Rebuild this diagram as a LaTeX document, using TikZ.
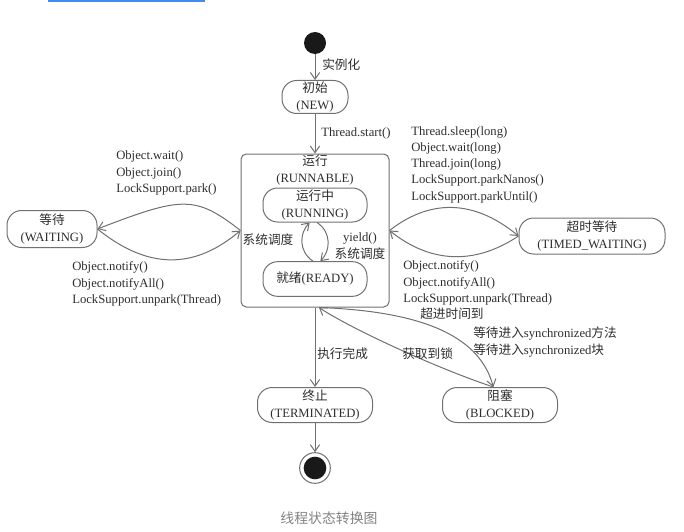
\documentclass[tikz,border=0pt]{standalone}
\usepackage{fontspec}
\setmainfont{Liberation Serif}
\newfontfamily\cjk{Noto Sans CJK SC}
\usepackage{tikz}
\usetikzlibrary{arrows.meta}

\definecolor{lineg}{RGB}{112,112,112}
\definecolor{txtg}{RGB}{45,45,45}
\definecolor{capg}{RGB}{130,130,130}
\definecolor{barblue}{RGB}{66,139,245}

\tikzset{
  state/.style={draw=lineg, line width=0.75pt, rounded corners=11pt, inner sep=0pt, align=center, text=txtg, font=\fontsize{9.5}{12.2}\selectfont},
  flow/.style={draw=lineg, line width=0.75pt, -{Straight Barb[length=5pt,width=7pt]}},
  lbl/.style={text=txtg, inner sep=0pt, align=left, font=\fontsize{9.5}{12.2}\selectfont},
}

\begin{document}
\begin{tikzpicture}[x=0.75pt,y=0.75pt,yscale=-1,xscale=1]
    \useasboundingbox (0,0) rectangle (684,531);
    \fill [barblue] (48,0) rectangle (205,2.5);

    % states
    \node [circle, fill=black!90, minimum size=16.5pt, inner sep=0pt] (start) at (315,43) {};
    \node [state, minimum width=49.5pt, minimum height=24.75pt] (new) at (315,97) {{\cjk 初始}\\(NEW)};
    \node [state, rounded corners=4pt, minimum width=111pt, minimum height=114.75pt] (runnable) at (315,230.5) {};
    \node [lbl, align=center] (runlabel) at (315,170) {{\cjk 运行}\\(RUNNABLE)};
    \node [state, minimum width=78pt, minimum height=25.5pt] (running) at (315,205) {{\cjk 运行中}\\(RUNNING)};
    \node [state, minimum width=78pt, minimum height=26pt] (ready) at (315,279) {{\cjk 就绪}(READY)};
    \node [state, minimum width=67.5pt, minimum height=27.75pt] (waiting) at (52,229) {{\cjk 等待}\\(WAITING)};
    \node [state, minimum width=109.5pt, minimum height=27pt] (timed) at (592,236) {{\cjk 超时等待}\\(TIMED\_WAITING)};
    \node [state, minimum width=86.25pt, minimum height=26.25pt] (terminated) at (315,405) {{\cjk 终止}\\(TERMINATED)};
    \node [state, minimum width=86.25pt, minimum height=26.25pt] (blocked) at (500,405) {{\cjk 阻塞}\\(BLOCKED)};
    \node [circle, draw=lineg, line width=0.75pt, fill=white, minimum size=23pt, inner sep=0pt] (finish) at (315,468) {};
    \node [circle, fill=black!90, minimum size=17pt, inner sep=0pt] (finishdot) at (finish) {};

    % transitions
    \draw [flow] (start) -- (new);
    \draw [flow] (new) -- (runnable);
    \draw [flow] (runnable) -- (terminated);
    \draw [flow] (terminated) -- (finish);
    \draw [flow] ([xshift=-1.5pt]ready.north) .. controls +(-15,-10) and +(-10,10) .. ([xshift=-4pt]running.south);
    \draw [flow] ([xshift=1.5pt]running.south) .. controls +(15,10) and +(10,-10) .. ([xshift=4pt]ready.north);
    \draw [flow] (runnable.west) .. controls +(-45,-35) and +(85,-33) .. (waiting.east);
    \draw [flow] (waiting.east) .. controls +(52,42) and +(-45,38) .. (runnable.west);
    \draw [flow] (runnable.east) .. controls +(45,-35) and +(-40,-33) .. (timed.west);
    \draw [flow] (timed.west) .. controls +(-45,30) and +(40,32) .. (runnable.east);
    \draw [flow] ([xshift=3pt]runnable.south) .. controls +(110,4) and +(-13,-48) .. ([xshift=-5pt]blocked.north);
    \draw [flow] ([xshift=-5pt]blocked.north) .. controls +(-60,-20) and +(30,20) .. ([xshift=3pt]runnable.south);

    % labels
    \node [lbl, anchor=west] (lnew) at (322,65) {\cjk 实例化};
    \node [lbl, anchor=west] (lstart) at (321,133) {Thread.start()};
    \node [lbl] (lsched) at (268,240) {\cjk 系统调度};
    \node [lbl, align=center] (lyield) at (360,246) {yield()\\{\cjk 系统调度}};
    \node [lbl, anchor=west] (lwait) at (116,173) {Object.wait()\\Object.join()\\LockSupport.park()};
    \node [lbl, anchor=west] (lnotify) at (72,284) {Object.notify()\\Object.notifyAll()\\LockSupport.unpark(Thread)};
    \node [lbl, anchor=west] (ltimed) at (411,164.5) {Thread.sleep(long)\\Object.wait(long)\\Thread.join(long)\\LockSupport.parkNanos()\\LockSupport.parkUntil()};
    \node [lbl, anchor=west] (ltnotify) at (403,283) {Object.notify()\\Object.notifyAll()\\LockSupport.unpark(Thread)};
    \node [lbl, anchor=west] (ltimeout) at (420,314) {\cjk 超进时间到};
    \node [lbl, anchor=west] (lsync) at (473,342) {{\cjk 等待进入}synchronized{\cjk 方法}\\{\cjk 等待进入}synchronized{\cjk 块}};
    \node [lbl, anchor=west] (ldone) at (317,354) {\cjk 执行完成};
    \node [lbl, anchor=west] (llock) at (402,354) {\cjk 获取到锁};

    \node [text=capg, inner sep=0pt, font=\cjk\fontsize{10.4}{12}\selectfont] (caption) at (329,518) {线程状态转换图};

\end{tikzpicture}
\end{document}
